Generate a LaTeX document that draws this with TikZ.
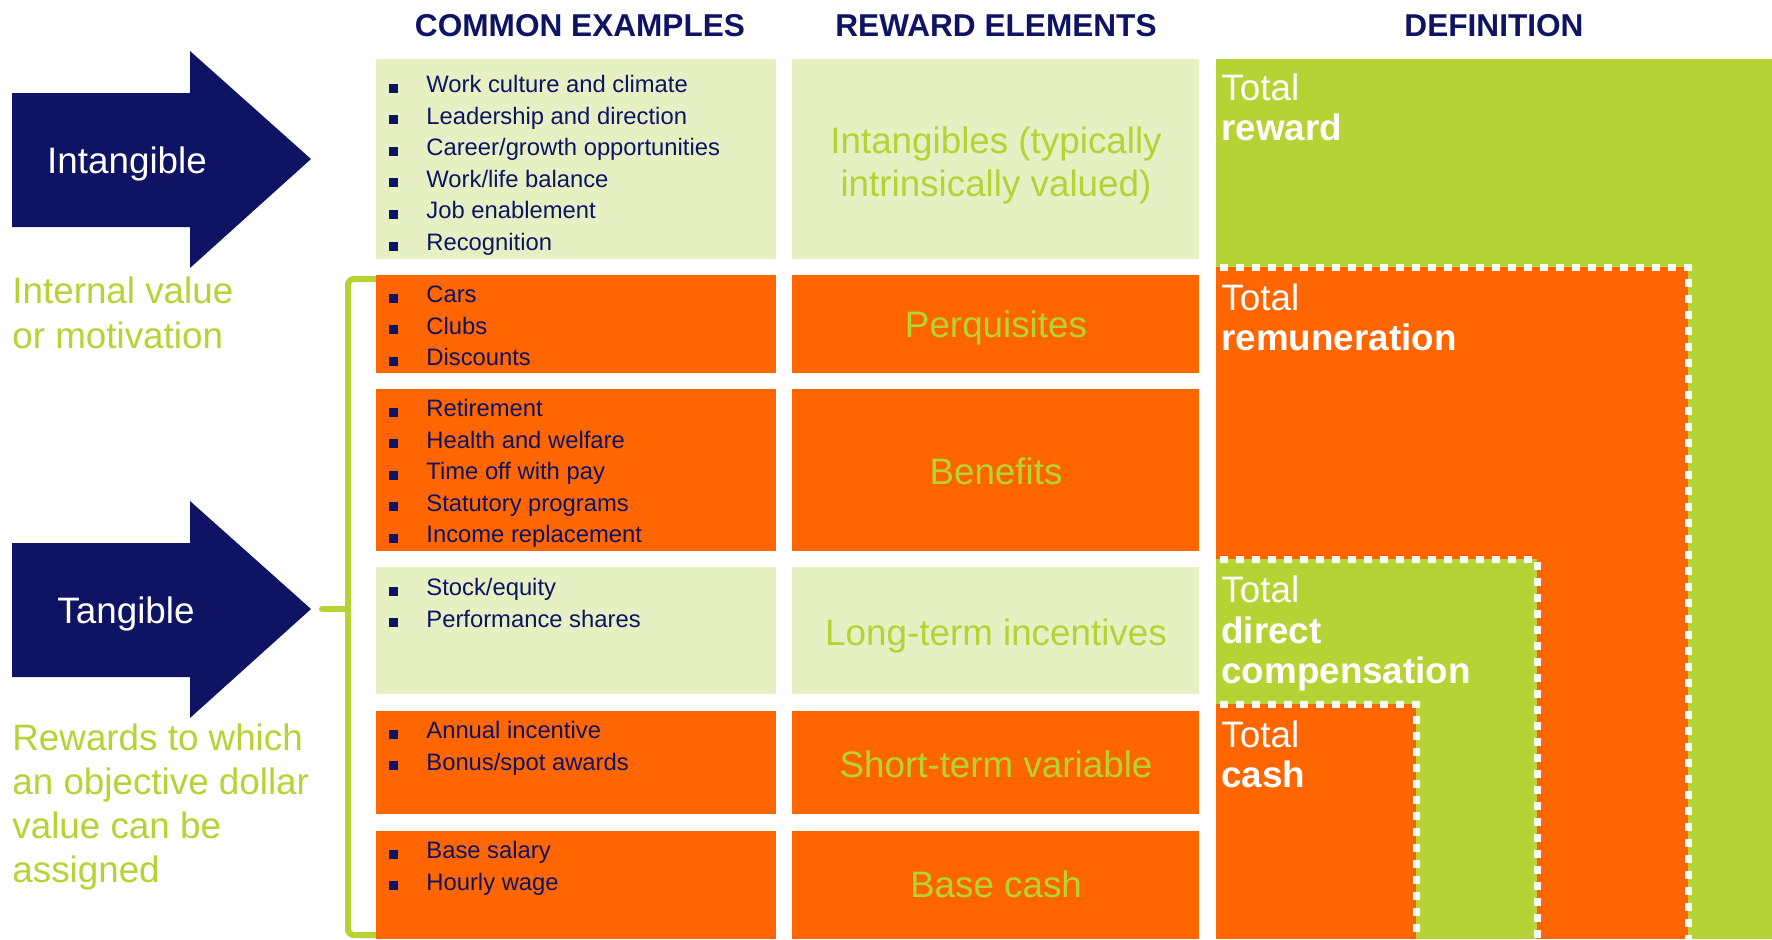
\documentclass[tikz,border=0pt]{standalone}
\usepackage{fontspec}
\setmainfont{Liberation Sans}
\definecolor{navy}{RGB}{14,19,100}
\definecolor{org}{RGB}{255,102,0}
\definecolor{lgr}{RGB}{230,240,195}
\definecolor{grn}{RGB}{181,211,52}
\newcommand\bulletlist[3]{%
  \foreach \t [count=\i] in {#3} {
    \pgfmathsetmacro{\yb}{#2+(\i-1)*31.6}
    \node[bul] (#1b\i) at (393.5,\yb-4.5) {};
    \node[itm] (#1t\i) at (426,\yb) {\t};
  }}
\begin{document}
\begin{tikzpicture}[x=0.5pt,y=-0.5pt,
  hdr/.style={font=\fontsize{15.8}{18}\selectfont\bfseries, text=navy, inner sep=0, anchor=base},
  itm/.style={font=\fontsize{11.9}{14}\selectfont, text=navy, inner sep=0, anchor=base west},
  bul/.style={fill=navy, minimum size=4.5pt, inner sep=0},
  elem/.style={font=\fontsize{18.4}{22}\selectfont, text=grn, inner sep=0, anchor=base},
  deftxt/.style={font=\fontsize{18.4}{22}\selectfont, text=white, inner sep=0, anchor=base west},
  side/.style={font=\fontsize{18.4}{22}\selectfont, text=grn, inner sep=0, anchor=base west},
  arrtxt/.style={font=\fontsize{18.4}{22}\selectfont, text=white, inner sep=0, anchor=base},
  dots/.style={white, line width=3.5pt, dash pattern=on 4pt off 4pt},
  brk/.style={grn, line width=3pt}
]
\useasboundingbox (0,0) rectangle (1772,939);

% headers
\node[hdr] (h1) at (580,36) {COMMON EXAMPLES};
\node[hdr] (h2) at (996,36) {REWARD ELEMENTS};
\node[hdr] (h3) at (1494,36) {DEFINITION};

% left arrows
\fill[navy] (12,93) -- (190,93) -- (190,51) -- (311,159) -- (190,268) -- (190,227) -- (12,227) -- cycle;
\node[arrtxt] (intang) at (127,173) {Intangible};
\fill[navy] (12,543) -- (190,543) -- (190,501) -- (311,609) -- (190,718) -- (190,677) -- (12,677) -- cycle;
\node[arrtxt] (tang) at (126,623) {Tangible};

\node[side] (iv1) at (12,303) {Internal value};
\node[side] (iv2) at (12,348) {or motivation};
\node[side] (rw1) at (12,750) {Rewards to which};
\node[side] (rw2) at (12,794) {an objective dollar};
\node[side] (rw3) at (12,838) {value can be};
\node[side] (rw4) at (12,882) {assigned};

% bracket
\draw[brk, rounded corners=3pt] (376,279) -- (348,279) -- (348,935) -- (376,935);
\draw[brk, line cap=round] (348,609) -- (322,609);

% column boxes
\fill[lgr] (376,59) rectangle (776,259);
\fill[lgr] (792,59) rectangle (1199,259);
\fill[org] (376,275) rectangle (776,373);
\fill[org] (792,275) rectangle (1199,373);
\fill[org] (376,389) rectangle (776,551);
\fill[org] (792,389) rectangle (1199,551);
\fill[lgr] (376,567) rectangle (776,694);
\fill[lgr] (792,567) rectangle (1199,694);
\fill[org] (376,711) rectangle (776,814);
\fill[org] (792,711) rectangle (1199,814);
\fill[org] (376,831) rectangle (776,939);
\fill[org] (792,831) rectangle (1199,939);

% bullets
\bulletlist{a}{92.5}{Work culture and climate, Leadership and direction, Career/growth opportunities, Work/life balance, Job enablement, Recognition}
\bulletlist{b}{302.5}{Cars, Clubs, Discounts}
\bulletlist{c}{416.5}{Retirement, Health and welfare, Time off with pay, Statutory programs, Income replacement}
\bulletlist{d}{595.5}{Stock/equity, Performance shares}
\bulletlist{e}{738.5}{Annual incentive, Bonus/spot awards}
\bulletlist{f}{858.5}{Base salary, Hourly wage}

% reward elements
\node[elem] (e1a) at (996,153) {Intangibles (typically};
\node[elem] (e1b) at (996,196) {intrinsically valued)};
\node[elem] (e2) at (996,337) {Perquisites};
\node[elem] (e3) at (996,484) {Benefits};
\node[elem] (e4) at (996,645) {Long-term incentives};
\node[elem] (e5) at (996,777) {Short-term variable};
\node[elem] (e6) at (996,897) {Base cash};

% definition
\fill[grn] (1216,59) rectangle (1772,939);
\fill[org] (1216,267) rectangle (1688,939);
\fill[grn] (1216,559) rectangle (1537,939);
\fill[org] (1216,704) rectangle (1416,939);
\draw[dots] (1220,267) -- (1688,267) -- (1688,939);
\draw[dots] (1220,559) -- (1537,559) -- (1537,939);
\draw[dots] (1220,704) -- (1416,704) -- (1416,939);

\node[deftxt] (d1a) at (1221,100) {Total};
\node[deftxt] (d1b) at (1221,140) {\bfseries reward};
\node[deftxt] (d2a) at (1221,310) {Total};
\node[deftxt] (d2b) at (1221,350) {\bfseries remuneration};
\node[deftxt] (d3a) at (1221,602) {Total};
\node[deftxt] (d3b) at (1221,643) {\bfseries direct};
\node[deftxt] (d3c) at (1221,683) {\bfseries compensation};
\node[deftxt] (d4a) at (1221,747) {Total};
\node[deftxt] (d4b) at (1221,787) {\bfseries cash};
\end{tikzpicture}
\end{document}
